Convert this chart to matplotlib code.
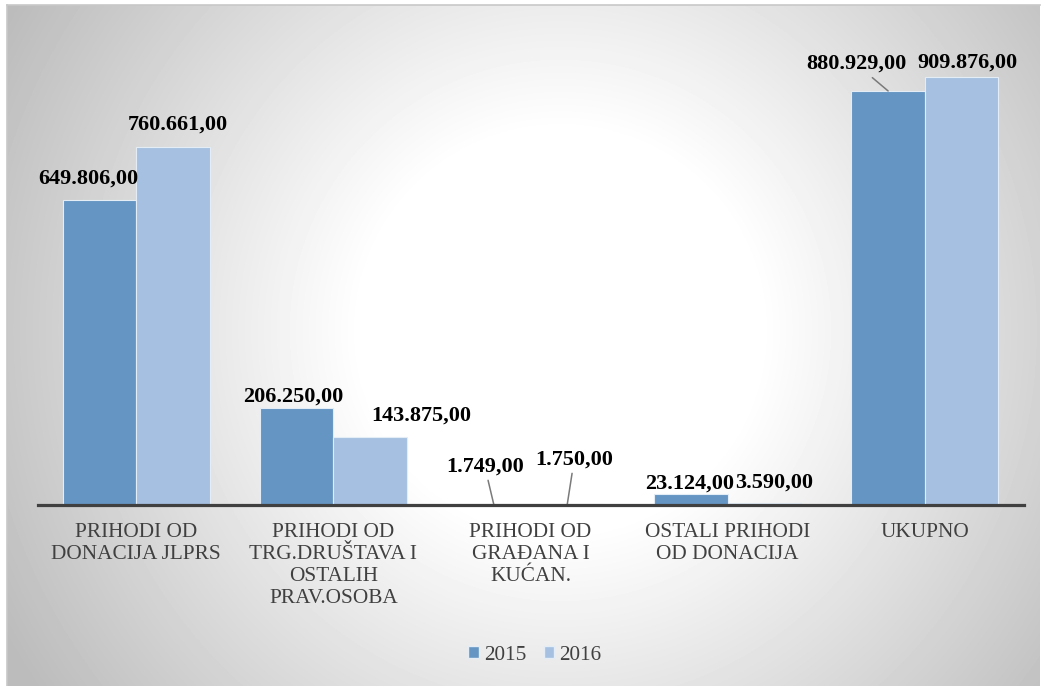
import numpy as np
import matplotlib.pyplot as plt
from matplotlib.patches import Patch

plt.rcParams['font.family'] = ['Liberation Serif', 'DejaVu Serif']

# Data
categories = ['PRIHODI OD\nDONACIJA JLPRS',
              'PRIHODI OD\nTRG.DRUŠTAVA I\nOSTALIH\nPRAV.OSOBA',
              'PRIHODI OD\nGRAĐANA I\nKUĆAN.',
              'OSTALI PRIHODI\nOD DONACIJA',
              'UKUPNO']
years = ['2015', '2016']
values_2015 = [649806, 206250, 1749, 23124, 880929]
values_2016 = [760661, 143875, 1750, 3590, 909876]

# Label placement (pixel offsets from bar top centre, as moved in the original)
offsets_2015 = [(-11, 16), (-3, 6), (-9, 33), (-1, 6), (-32, 22)]
offsets_2016 = [(5, 18), (51, 17), (7, 40), (10, 16), (6, 10)]
leaders_2015 = [False, False, True, False, True]
leaders_2016 = [False, False, True, False, False]

col_2015 = '#6495c3'
col_2016 = '#a5c0e1'
text_grey = '#404040'

W, H = 1043, 686
fig = plt.figure(figsize=(W / 100, H / 100), dpi=100)

# radial grey-to-white background
bx0, by0, bw, bh = 7, 0, 1033, 681
ax_bg = fig.add_axes([bx0 / W, by0 / H, bw / W, bh / H])
xx, yy = np.meshgrid(np.arange(bw) + bx0, np.arange(bh) + (H - by0 - bh))
dist = np.hypot(xx - 560, yy - 330)
shade = np.clip(255 - 0.155 * np.clip(dist - 200, 0, None), 188, 255) / 255
ax_bg.imshow(shade, cmap='gray', vmin=0, vmax=1, aspect='auto',
             extent=(0, 1, 0, 1), interpolation='bilinear')
ax_bg.set_xticks([])
ax_bg.set_yticks([])
for side in ['bottom', 'right']:
    ax_bg.spines[side].set_visible(False)
for side in ['top', 'left']:
    ax_bg.spines[side].set_color('#c8c8c8')
    ax_bg.spines[side].set_linewidth(1.2)

# main chart
ax = fig.add_axes([37.5 / W, 181 / H, 986 / W, 470 / H])
ax.patch.set_alpha(0)
x = np.arange(len(categories))
w = 0.373
bars1 = ax.bar(x - w / 2, values_2015, w, color=col_2015, edgecolor='#e4ecf6', linewidth=0.8, label=years[0])
bars2 = ax.bar(x + w / 2, values_2016, w, color=col_2016, edgecolor='#e4ecf6', linewidth=0.8, label=years[1])

ax.set_xlim(-0.5, len(categories) - 0.5)
ax.set_ylim(0, 1000000)
ax.set_yticks([])
for side in ['top', 'left', 'right']:
    ax.spines[side].set_visible(False)
ax.spines['bottom'].set_color(text_grey)
ax.spines['bottom'].set_linewidth(2.3)
ax.spines['bottom'].set_zorder(3)
ax.set_xticks(x, categories, fontsize=15.3, color=text_grey, linespacing=1.22)
ax.tick_params(axis='x', length=0, pad=13)


def fmt(v):
    s = f'{v:,.2f}'
    return s.replace(',', 'X').replace('.', ',').replace('X', '.')


def add_labels(bars, vals, offsets, leaders):
    for b, v, (dx, dy), lead in zip(bars, vals, offsets, leaders):
        cx = b.get_x() + b.get_width() / 2
        arrow = None
        if lead:
            arrow = dict(arrowstyle='-', color='#7a7a7a', lw=1.1, shrinkA=1, shrinkB=0)
        ax.annotate(fmt(v), xy=(cx, v), xytext=(dx, dy), textcoords='offset pixels',
                    ha='center', va='baseline', fontsize=16, fontweight='bold',
                    color='black', arrowprops=arrow, annotation_clip=False)


add_labels(bars1, values_2015, offsets_2015, leaders_2015)
add_labels(bars2, values_2016, offsets_2016, leaders_2016)

handles = [Patch(facecolor=col_2015, edgecolor='#e4ecf6'), Patch(facecolor=col_2016, edgecolor='#e4ecf6')]
fig.legend(handles, years, loc='center', bbox_to_anchor=(535 / W, 1 - 655 / H), ncol=2,
           frameon=False, fontsize=15.3, labelcolor=text_grey, handlelength=0.5, handleheight=0.5,
           handletextpad=0.25, columnspacing=0.8)

fig.savefig('out.png', dpi=100)
